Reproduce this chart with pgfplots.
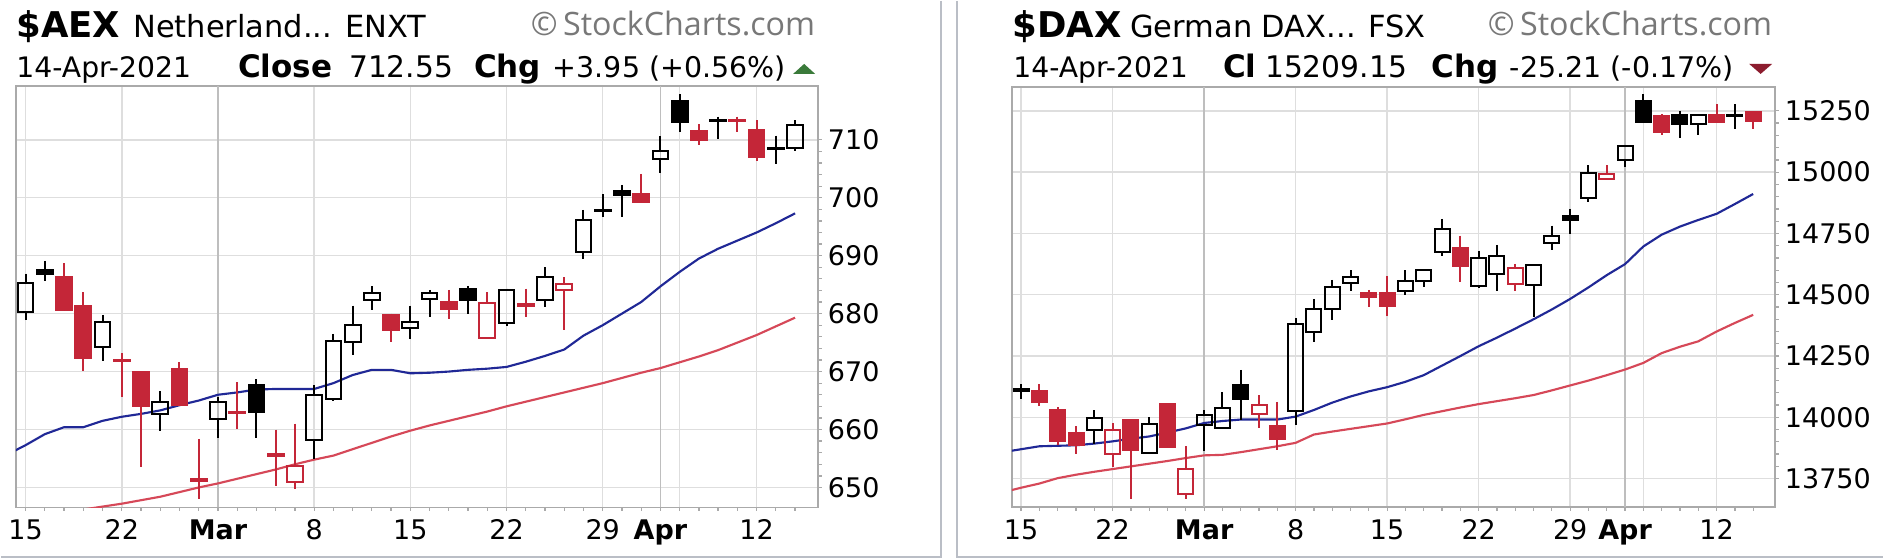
\documentclass[border=0pt]{standalone}
\usepackage{fontspec}
\setmainfont{DejaVu Sans}
\newfontfamily\wmfont{Open Sans}
\usepackage{pgfplots}
\pgfplotsset{compat=1.18}
\usepackage{pgfplotstable}

\definecolor{cred}{RGB}{196,38,56}
\definecolor{mablue}{RGB}{32,40,150}
\definecolor{mared}{RGB}{214,72,88}
\definecolor{gridc}{RGB}{222,222,222}
\definecolor{monthc}{RGB}{190,190,190}
\definecolor{framec}{RGB}{170,170,170}
\definecolor{panelc}{RGB}{186,190,198}
\definecolor{wmc}{RGB}{120,120,120}
\definecolor{upg}{RGB}{58,122,58}
\definecolor{dnr}{RGB}{140,28,46}

% i = trading day counted from 15 Feb 2021
% t: 0 black hollow, 1 black filled, 2 red hollow, 3 red filled
\pgfplotstableread{
i o h l c t
0 680.2 686.9 678.9 685.2 0
1 687.6 689.1 685.6 686.8 1
2 686.4 688.7 680.4 680.6 3
3 681.4 683.7 670.1 672.4 3
4 674.2 679.8 671.8 678.5 0
5 672.0 673.2 665.6 671.8 3
6 669.9 670.0 653.5 664.0 3
7 662.7 666.6 659.7 664.7 0
8 670.5 671.6 664.0 664.3 3
9 651.5 658.4 648.0 651.2 3
10 661.8 665.6 658.6 664.8 0
11 663.0 668.2 660.1 662.8 3
12 667.6 668.7 658.6 663.0 1
13 655.7 660.0 650.2 655.5 3
14 651.0 661.0 649.8 653.7 2
15 658.2 667.6 654.9 665.9 0
16 665.3 676.5 665.0 675.2 0
17 675.1 681.4 672.9 678.0 0
18 682.4 684.7 680.6 683.5 0
19 679.8 680.0 675.1 677.2 3
20 677.5 681.4 675.6 678.5 0
21 682.5 684.1 679.5 683.6 0
22 682.0 684.1 679.0 680.8 3
23 684.3 684.8 680.0 682.3 1
24 675.8 683.7 675.8 681.8 2
25 678.4 684.3 677.8 684.1 0
26 681.6 684.3 679.4 681.4 3
27 682.4 688.0 681.1 686.4 0
28 684.0 686.3 677.2 685.1 2
29 690.7 697.9 689.4 696.2 0
30 697.7 700.6 696.6 697.9 0
31 701.2 702.2 696.6 700.5 1
32 700.6 704.1 699.2 699.3 3
33 706.6 710.6 704.3 708.1 0
34 716.7 717.9 711.4 713.1 1
35 711.6 712.7 709.1 709.9 3
36 713.3 714.0 710.2 713.4 0
37 713.5 714.0 711.4 713.3 3
38 711.7 713.4 706.4 707.0 3
39 708.4 710.7 705.8 708.6 0
40 708.6 713.4 708.0 712.55 0
}\aex

% moving averages: b = 20 day (blue), r = 50 day (red)
\pgfplotstableread{
i b r
-1 655.6 644.0
0 657.3 644.6
1 659.2 645.1
2 660.4 645.6
3 660.4 646.2
4 661.5 646.7
5 662.2 647.2
6 662.7 647.8
7 663.3 648.4
8 664.2 649.2
9 665.0 650.0
10 666.0 650.7
11 666.4 651.5
12 666.9 652.3
13 667.0 653.1
14 667.0 654.0
15 667.0 654.8
16 668.0 655.5
17 669.4 656.6
18 670.3 657.7
19 670.3 658.8
20 669.7 659.8
21 669.8 660.7
22 670.0 661.5
23 670.3 662.3
24 670.5 663.1
25 670.8 664.0
26 671.7 664.8
27 672.7 665.6
28 673.8 666.4
29 676.2 667.2
30 678.0 668.0
31 680.0 668.9
32 682.0 669.8
33 684.7 670.6
34 687.2 671.6
35 689.5 672.6
36 691.2 673.7
37 692.6 675.0
38 694.0 676.3
39 695.6 677.8
40 697.3 679.3
}\aexma

\pgfplotstableread{
i o h l c t
0 14115 14134 14076 14108 1
1 14107 14134 14045 14063 3
2 14028 14042 13886 13903 3
3 13936 13963 13849 13886 3
4 13947 14028 13893 13999 0
5 13852 13977 13798 13947 2
6 13988 13990 13669 13868 3
7 13855 14001 13852 13971 0
8 14053 14055 13878 13880 3
9 13689 13882 13669 13791 2
10 13967 14028 13863 14008 0
11 13958 14103 13955 14038 0
12 14130 14194 13991 14076 1
13 14012 14090 13958 14049 2
14 13963 14063 13868 13913 3
15 14025 14406 13967 14379 0
16 14347 14483 14307 14443 0
17 14443 14561 14398 14533 0
18 14547 14599 14517 14571 0
19 14506 14520 14452 14490 3
20 14507 14575 14415 14453 3
21 14517 14599 14500 14558 0
22 14558 14601 14531 14599 0
23 14676 14809 14657 14768 0
24 14689 14741 14554 14619 3
25 14537 14680 14526 14649 0
26 14585 14703 14517 14660 0
27 14545 14626 14517 14608 2
28 14541 14625 14408 14622 0
29 14711 14782 14684 14739 0
30 14822 14850 14748 14805 1
31 14893 15029 14877 14998 0
32 14972 15029 14970 14994 2
33 15050 15107 15023 15105 0
34 15291 15318 15203 15205 1
35 15227 15236 15151 15162 3
36 15232 15250 15141 15196 1
37 15196 15234 15151 15232 0
38 15232 15277 15203 15205 3
39 15230 15277 15178 15234 0
40 15246 15248 15178 15209.15 3
}\dax

\pgfplotstableread{
i b r
-1 13858 13694
0 13870 13713
1 13882 13730
2 13884 13752
3 13886 13766
4 13893 13778
5 13902 13789
6 13913 13800
7 13922 13811
8 13938 13822
9 13955 13834
10 13977 13845
11 13985 13847
12 13991 13858
13 13991 13870
14 13991 13882
15 14003 13896
16 14030 13930
17 14060 13942
18 14085 13953
19 14106 13964
20 14123 13975
21 14145 13992
22 14172 14010
23 14211 14025
24 14250 14040
25 14290 14054
26 14325 14066
27 14362 14078
28 14400 14091
29 14440 14110
30 14483 14130
31 14530 14150
32 14580 14172
33 14625 14195
34 14697 14222
35 14745 14262
36 14778 14288
37 14805 14310
38 14830 14350
39 14870 14385
40 14911 14418
}\daxma

\pgfplotsset{
  panel/.style={
    scale only axis, anchor=south west,
    xmin=-0.5, xmax=41.2,
    axis line style={draw=framec, line width=0.7pt},
    xtick={0,5,15,20,25,30,34,38},
    xticklabels={15,22,8,15,22,29,{},12},
    extra x ticks={10,33},
    extra x tick labels={\textbf{Mar},\textbf{Apr}},
    extra x tick style={major grid style={draw=monthc, line width=0.7pt}},
    minor xtick={0,1,...,40},
    xmajorgrids, ymajorgrids,
    major grid style={draw=gridc, line width=0.6pt},
    tick align=outside, xtick pos=bottom, ytick pos=right,
    yticklabel pos=right,
    major tick length=1.4pt, minor tick length=1.4pt,
    tick style={draw=framec, line width=0.5pt},
    ticklabel style={font=\fontsize{10.8}{13}\selectfont},
    scaled y ticks=false,
    /pgf/number format/assume math mode=true,
    /pgf/number format/fixed,
    /pgf/number format/precision=0,
    /pgf/number format/set thousands separator={},
    yticklabel style={xshift=-1pt},
    minor y tick num=4,
  },
  candle/.style={
    scatter, only marks, mark=*, mark size=0pt,
    mark options={draw=none, fill=none},
    visualization depends on={\thisrow{t}\as\ctype},
    visualization depends on={\thisrow{o}-\thisrow{c}\as\dop},
    visualization depends on={\thisrow{h}-\thisrow{c}\as\dhi},
    visualization depends on={\thisrow{l}-\thisrow{c}\as\dlo},
    visualization depends on={max(\thisrow{o}-\thisrow{c},0)\as\dtop},
    visualization depends on={min(\thisrow{o}-\thisrow{c},0)\as\dbot},
    scatter/@pre marker code/.code={%
      \pgfmathtruncatemacro\ct{\ctype}%
      \ifcase\ct\relax
        \def\cc{black}\def\ff{none}%
      \or \def\cc{black}\def\ff{black}%
      \or \def\cc{cred}\def\ff{none}%
      \or \def\cc{cred}\def\ff{cred}%
      \fi
      \draw[\cc, line width=0.8pt]
        (axis direction cs:0,\dhi) -- (axis direction cs:0,\dtop)
        (axis direction cs:0,\dbot) -- (axis direction cs:0,\dlo);
      \draw[\cc, fill=\ff, line width=0.8pt]
        (axis direction cs:-0.41,0) rectangle (axis direction cs:0.41,\dop);
    },
    scatter/@post marker code/.code={},
  },
}

\begin{document}
\begin{tikzpicture}
\begin{scope}[x=0.4pt,y=0.4pt]
\useasboundingbox (0,0) rectangle (1884,558);
\fill[white] (0,0) rectangle (1884,558);
\end{scope}

\begin{axis}[panel, at={(6pt,20.4pt)}, width=321.2pt, height=168.8pt,
  ymin=646.55, ymax=719.3, ytick={650,660,...,710}]
\addplot[mared, line width=0.85pt] table[x=i,y=r]{\aexma};
\addplot[mablue, line width=0.85pt] table[x=i,y=b]{\aexma};
\addplot[candle] table[x=i,y=c]{\aex};
\end{axis}

\begin{axis}[panel, at={(404.8pt,20.5pt)}, width=305.6pt, height=168.3pt,
  ymin=13633.5, ymax=15347.7, ytick={13750,14000,...,15250}]
\addplot[mared, line width=0.85pt] table[x=i,y=r]{\daxma};
\addplot[mablue, line width=0.85pt] table[x=i,y=b]{\daxma};
\addplot[candle] table[x=i,y=c]{\dax};
\end{axis}

\begin{scope}[x=0.4pt,y=0.4pt, every node/.style={anchor=base west, inner sep=0pt}]
\draw[panelc, line width=0.8pt] (941,558) -- (941,1) -- (0,1);
\draw[panelc, line width=0.8pt] (957,558) -- (957,1) -- (1884,1);
% AEX header
\node at (15,521.3) {\fontsize{14.2}{16}\selectfont\bfseries \$AEX};
\node at (132,521.3) {\fontsize{12.2}{14}\selectfont Netherland... ENXT};
\node[text=wmc] at (530,523) {\wmfont\fontsize{12.9}{14}\selectfont \textcopyright\,StockCharts.com};
\node at (15,481.3) {\fontsize{11.3}{13}\selectfont 14-Apr-2021};
\node at (237,481.3) {\fontsize{12.4}{14}\selectfont\bfseries Close};
\node at (348,481.3) {\fontsize{11.9}{14}\selectfont 712.55};
\node at (473,481.3) {\fontsize{12.4}{14}\selectfont\bfseries Chg};
\node at (552,481.3) {\fontsize{11.4}{14}\selectfont +3.95 (+0.56\%)};
\fill[upg] (793,485) -- (815,485) -- (804,495) -- cycle;
% DAX header
\node at (1012,521.3) {\fontsize{14.2}{16}\selectfont\bfseries \$DAX};
\node at (1130,521.3) {\fontsize{12.2}{14}\selectfont German DAX... FSX};
\node[text=wmc] at (1488,523) {\wmfont\fontsize{12.9}{14}\selectfont \textcopyright\,StockCharts.com};
\node at (1013,481.3) {\fontsize{11.3}{13}\selectfont 14-Apr-2021};
\node at (1223,481.3) {\fontsize{12.4}{14}\selectfont\bfseries Cl};
\node at (1265,481.3) {\fontsize{11.9}{14}\selectfont 15209.15};
\node at (1432,481.3) {\fontsize{12.4}{14}\selectfont\bfseries Chg};
\node at (1510,481.3) {\fontsize{11.4}{14}\selectfont -25.21 (-0.17\%)};
\fill[dnr] (1750,495) -- (1773,495) -- (1761.5,485) -- cycle;
\end{scope}
\end{tikzpicture}
\end{document}
